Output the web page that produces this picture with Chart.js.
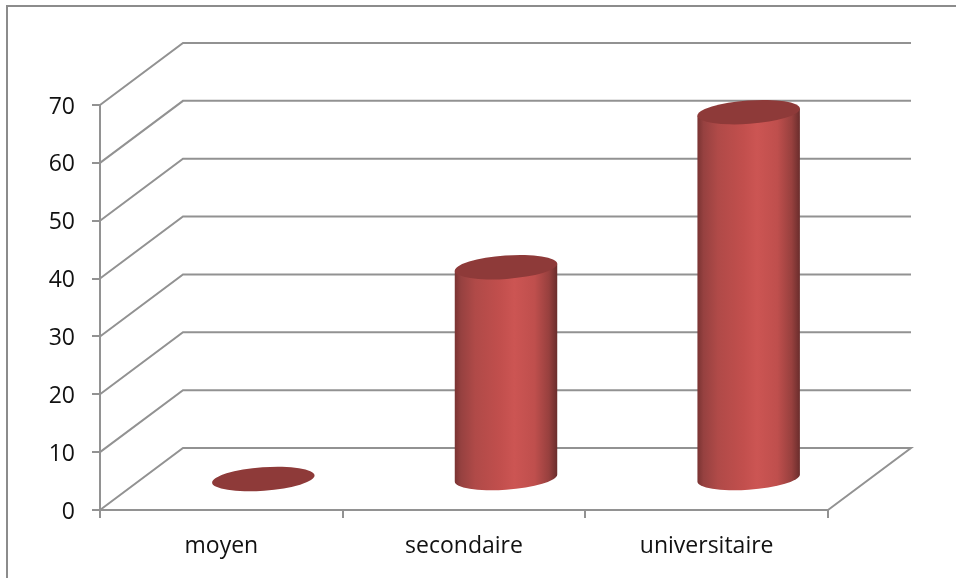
<!DOCTYPE html>
<html>
<head>
<meta charset="utf-8">
<script src="https://cdn.jsdelivr.net/npm/chart.js@4"></script>
<style>
    html, body { margin: 0; background: #fff; overflow: hidden; }
    #frame { position: absolute; left: 6px; top: 5px; width: 950px; height: 573px; border-top: 2px solid #8c8c8c; border-left: 2px solid #8c8c8c; box-sizing: border-box; }
    #levelChart { position: absolute; left: 0; top: 0; }
</style>
</head>
<body>
<div id="frame"></div>
<canvas id="levelChart" width="956" height="578"></canvas>
<script>
var categories = ['moyen', 'secondaire', 'universitaire'];
var percentValues = [0, 36.6, 63.4];
var axisMax = 70;
var axisStep = 10;

var gridColor = '#929292';
var depthX = 83;  // how far the back wall sits from the front axes
var depthY = 62;

// side wall, floor and back wall lines, offset from the real axes
var depthGrid = {
    id: 'depthGrid',
    beforeDatasetsDraw: function (chart) {
        var ctx = chart.ctx;
        var xs = chart.scales.x;
        var ys = chart.scales.y;
        ctx.save();
        ctx.strokeStyle = gridColor;
        ctx.lineWidth = 2;
        ys.ticks.forEach(function (t) {
            var py = ys.getPixelForValue(t.value);
            ctx.beginPath();
            ctx.moveTo(xs.left, py);
            ctx.lineTo(xs.left + depthX, py - depthY);
            ctx.lineTo(xs.right + depthX, py - depthY);
            if (t.value === 0) ctx.lineTo(xs.right, py);
            ctx.stroke();
        });
        ctx.restore();
    }
};

// bars are drawn as tilted cylinders standing in the middle of the floor
var cylinders = {
    id: 'cylinders',
    afterDatasetsDraw: function (chart) {
        var ctx = chart.ctx;
        var tilt = -4.1 * Math.PI / 180;
        chart.getDatasetMeta(0).data.forEach(function (bar) {
            var a = bar.width / 2 + 0.4;
            var b = 11.7;
            var cx = bar.x + depthX / 2 + 0.5;
            var top = bar.y - depthY / 2;
            var base = bar.base - depthY / 2;
            var t0 = Math.atan(-(b / a) * Math.tan(tilt));
            var edge = a * Math.cos(t0) * Math.cos(tilt) - b * Math.sin(t0) * Math.sin(tilt);
            var rise = a * Math.cos(t0) * Math.sin(tilt) + b * Math.sin(t0) * Math.cos(tilt);

            ctx.save();
            if (base - top > 1) {
                var grad = ctx.createLinearGradient(cx - edge, 0, cx + edge, 0);
                grad.addColorStop(0, '#7a3332');
                grad.addColorStop(0.06, '#964140');
                grad.addColorStop(0.2, '#b04a48');
                grad.addColorStop(0.45, '#c24f4d');
                grad.addColorStop(0.58, '#cc5553');
                grad.addColorStop(0.78, '#bf4f4d');
                grad.addColorStop(0.92, '#97403e');
                grad.addColorStop(1, '#6a2d2c');
                ctx.fillStyle = grad;
                ctx.beginPath();
                ctx.ellipse(cx, base, a, b, tilt, t0, t0 + Math.PI);
                ctx.lineTo(cx - edge, top - rise);
                ctx.lineTo(cx + edge, top + rise);
                ctx.closePath();
                ctx.fill();
            }
            ctx.fillStyle = '#8e3a39';
            ctx.beginPath();
            ctx.ellipse(cx, top, a, b, tilt, 0, Math.PI * 2);
            ctx.fill();
            ctx.restore();
        });
    }
};

window.levelChart = new Chart(document.getElementById('levelChart').getContext('2d'), {
    type: 'bar',
    data: {
        labels: categories,
        datasets: [{
            label: 'niveau',
            data: percentValues,
            backgroundColor: 'rgba(0, 0, 0, 0)',
            barPercentage: 0.42,
            categoryPercentage: 1
        }]
    },
    options: {
        responsive: false,
        animation: false,
        layout: { padding: { top: 105, right: 128, left: 0, bottom: 0 } },
        plugins: { legend: { display: false }, title: { display: false }, tooltip: { enabled: false } },
        scales: {
            x: {
                afterFit: function (scale) { scale.height = 68; },
                grid: { drawOnChartArea: false, color: gridColor, lineWidth: 2, tickLength: 8 },
                border: { color: gridColor, width: 2 },
                ticks: { color: '#111', padding: 15, font: { family: 'Open Sans', size: 23 } }
            },
            y: {
                min: 0,
                max: axisMax,
                afterFit: function (scale) { scale.width = 100; },
                grid: { drawOnChartArea: false, color: gridColor, lineWidth: 2, tickLength: 8 },
                border: { color: gridColor, width: 2 },
                ticks: { stepSize: axisStep, color: '#111', padding: 17, labelOffset: 2, font: { family: 'Open Sans', size: 23 } }
            }
        }
    },
    plugins: [depthGrid, cylinders]
});
</script>
</body>
</html>
